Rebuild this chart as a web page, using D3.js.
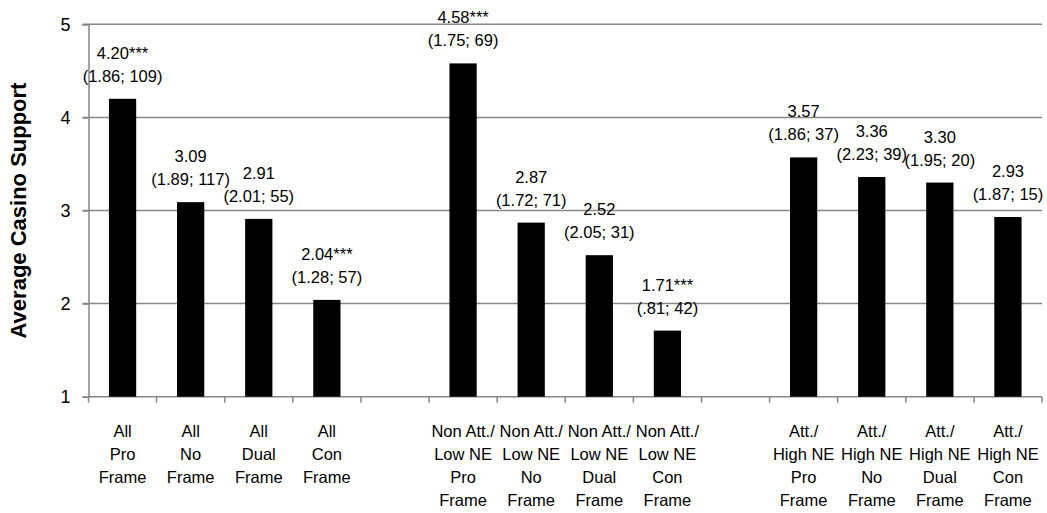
<!DOCTYPE html>
<html><head><meta charset="utf-8">
<script src="https://cdn.jsdelivr.net/npm/d3@7"></script>
<style>body{margin:0;background:#fff;}svg{display:block;font-family:"Liberation Sans",Arial,sans-serif;}</style>
</head><body>
<svg id="c" width="1047" height="513"></svg>
<script>
const slots = ["a1","a2","a3","a4","g1","n1","n2","n3","n4","g2","h1","h2","h3","h4"];
const barSlots = ["a1","a2","a3","a4","n1","n2","n3","n4","h1","h2","h3","h4"];
const values = [4.20,3.09,2.91,2.04,4.58,2.87,2.52,1.71,3.57,3.36,3.30,2.93];
const stars = ["***","","","***","***","","","***","","","",""];
const sdN = ["(1.86; 109)","(1.89; 117)","(2.01; 55)","(1.28; 57)","(1.75; 69)","(1.72; 71)","(2.05; 31)","(.81; 42)","(1.86; 37)","(2.23; 39)","(1.95; 20)","(1.87; 15)"];
const catLabels = [
  ["All","Pro","Frame"],["All","No","Frame"],["All","Dual","Frame"],["All","Con","Frame"],[],
  ["Non Att./","Low NE","Pro","Frame"],["Non Att./","Low NE","No","Frame"],["Non Att./","Low NE","Dual","Frame"],["Non Att./","Low NE","Con","Frame"],[],
  ["Att./","High NE","Pro","Frame"],["Att./","High NE","No","Frame"],["Att./","High NE","Dual","Frame"],["Att./","High NE","Con","Frame"]
];
const yTicks = [1,2,3,4,5];
const yTitle = "Average Casino Support";

const svg = d3.select("#c");
const L = 88.5, R = 1042, T = 24.3, B = 396.7;
const x = d3.scaleBand().domain(slots).range([L, R]).padding(0);
const y = d3.scaleLinear().domain([1,5]).range([B, T]);
const gray = "#868686";

// gridlines
svg.append("g").selectAll("line").data(yTicks.slice(1)).join("line")
  .attr("x1", L-6).attr("x2", R).attr("y1", d=>y(d)).attr("y2", d=>y(d))
  .attr("stroke", gray).attr("stroke-width", 1.5);
// y axis
const ya = svg.append("g").attr("transform", `translate(${L},0)`)
  .call(d3.axisLeft(y).tickValues(yTicks).tickSize(6).tickFormat(d3.format("d")));
ya.select(".domain").attr("stroke", gray).attr("stroke-width",1.5);
ya.selectAll(".tick line").attr("stroke", gray).attr("stroke-width",1.5);
ya.selectAll(".tick text").attr("font-size", 18).attr("font-family","Liberation Sans, Arial, sans-serif").attr("fill","#000").attr("x",-23).attr("text-anchor","middle");

// x axis line + ticks at slot boundaries
svg.append("line").attr("x1", L).attr("x2", R).attr("y1", B).attr("y2", B).attr("stroke", gray).attr("stroke-width",1.5);
const bounds = slots.map(s=>x(s)).concat([x(slots[slots.length-1])+x.bandwidth()]);
svg.append("g").selectAll("line").data(bounds).join("line")
  .attr("x1", d=>d).attr("x2", d=>d).attr("y1", B).attr("y2", B+6)
  .attr("stroke", gray).attr("stroke-width",1.5);

// bars
const bw = x.bandwidth()*0.4;
const data = barSlots.map((s,i)=>({s, v:values[i], st:stars[i], sd:sdN[i]}));
svg.append("g").selectAll("rect").data(data).join("rect")
  .attr("x", d=>x(d.s)+x.bandwidth()/2-bw/2).attr("width", bw)
  .attr("y", d=>y(d.v)).attr("height", d=>B-y(d.v)).attr("fill","#000");

// labels
const lg = svg.append("g").attr("font-size",16.5).attr("text-anchor","middle").attr("fill","#000");
lg.selectAll("text.v").data(data).join("text").attr("class","v")
  .attr("x", d=>x(d.s)+x.bandwidth()/2).attr("y", d=>y(d.v)-40)
  .text(d=>d.v.toFixed(2)+d.st);
lg.selectAll("text.s").data(data).join("text").attr("class","s")
  .attr("x", d=>x(d.s)+x.bandwidth()/2).attr("y", d=>y(d.v)-17)
  .text(d=>d.sd);

// category labels
const cg = svg.append("g").attr("font-size",16.5).attr("text-anchor","middle").attr("fill","#000");
slots.forEach((s,i)=>{
  const t = cg.append("text").attr("x", x(s)+x.bandwidth()/2).attr("y", 437);
  catLabels[i].forEach((ln,j)=>t.append("tspan").attr("x", x(s)+x.bandwidth()/2).attr("y", 437+j*23).text(ln));
});

// y title
svg.append("text").attr("transform", `translate(26,${(T+B)/2}) rotate(-90)`)
  .attr("text-anchor","middle").attr("font-size",22).attr("font-weight","bold").text(yTitle);
</script>
</body></html>
